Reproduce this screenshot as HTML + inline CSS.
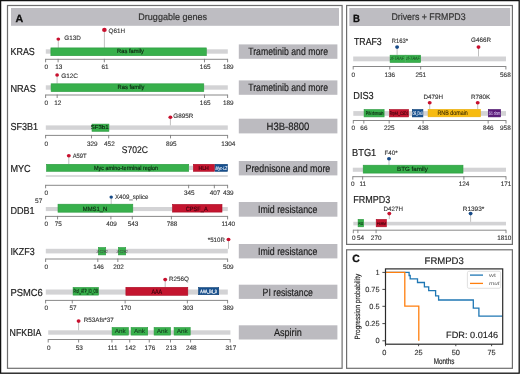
<!DOCTYPE html>
<html><head><meta charset="utf-8"><style>
html,body{margin:0;padding:0;background:#fff;}
svg{display:block;font-family:"Liberation Sans", sans-serif;will-change:transform;text-rendering:geometricPrecision;}
</style></head><body>
<svg width="520" height="374" viewBox="0 0 520 374">
<rect x="0.00" y="0.00" width="520.00" height="374.00" fill="#fff"/>
<rect x="0.6" y="0.6" width="518.6" height="372.6" fill="none" stroke="#111" stroke-width="1.3"/>
<rect x="7.5" y="5.5" width="334.6" height="362.8" fill="none" stroke="#6e6e6e" stroke-width="1.2"/>
<rect x="346.6" y="5.5" width="165.8" height="238.9" fill="none" stroke="#6e6e6e" stroke-width="1.2"/>
<rect x="346.6" y="249.8" width="165.8" height="118.5" fill="none" stroke="#6e6e6e" stroke-width="1.2"/>
<rect x="11.00" y="8.00" width="328.00" height="17.80" fill="#bebdc2"/>
<rect x="349.30" y="8.00" width="160.90" height="18.00" fill="#bebdc2"/>
<text x="15.50" y="21.90" font-size="10.4" fill="#111" stroke="#111" stroke-width="0.3" textLength="7.70" lengthAdjust="spacingAndGlyphs" font-weight="bold">A</text>
<text x="138.30" y="20.00" font-size="9.5" fill="#333" stroke="#333" stroke-width="0.2" textLength="68.80" lengthAdjust="spacingAndGlyphs">Druggable genes</text>
<text x="352.90" y="21.90" font-size="10.4" fill="#111" stroke="#111" stroke-width="0.3" textLength="6.90" lengthAdjust="spacingAndGlyphs" font-weight="bold">B</text>
<text x="391.40" y="19.90" font-size="9.7" fill="#333" stroke="#333" stroke-width="0.2" textLength="74.20" lengthAdjust="spacingAndGlyphs">Drivers + FRMPD3</text>
<text x="10.50" y="55.40" font-size="10.1" fill="#1e1e1e" stroke="#1e1e1e" stroke-width="0.2" textLength="24.30" lengthAdjust="spacingAndGlyphs">KRAS</text>
<rect x="45.80" y="49.30" width="182.00" height="4.40" fill="#d3d3d5"/>
<line x1="58.30" y1="39.10" x2="58.30" y2="47.90" stroke="#b0b0b0" stroke-width="0.8"/>
<ellipse cx="58.30" cy="39.10" rx="1.87" ry="1.70" fill="#c8102e"/>
<text x="64.20" y="39.90" font-size="6.3" fill="#333" stroke="#333" stroke-width="0.12" textLength="16.60" lengthAdjust="spacingAndGlyphs">G13D</text>
<line x1="104.40" y1="29.90" x2="104.40" y2="47.90" stroke="#b0b0b0" stroke-width="0.8"/>
<ellipse cx="104.40" cy="29.90" rx="2.31" ry="2.10" fill="#c8102e"/>
<text x="108.50" y="32.50" font-size="6.3" fill="#333" stroke="#333" stroke-width="0.12" textLength="16.50" lengthAdjust="spacingAndGlyphs">Q61H</text>
<rect x="50.90" y="47.90" width="155.40" height="7.80" fill="#38b04c" stroke="#2a9a3e" stroke-width="0.6"/>
<text x="117.10" y="53.30" font-size="6.0" fill="#0c2410" stroke="#0c2410" stroke-width="0.14" textLength="26.90" lengthAdjust="spacingAndGlyphs">Ras family</text>
<line x1="45.60" y1="59.30" x2="227.60" y2="59.30" stroke="#7a7a7a" stroke-width="0.9"/>
<line x1="45.60" y1="58.85" x2="45.60" y2="62.30" stroke="#7a7a7a" stroke-width="0.9"/>
<text x="46.30" y="69.14" font-size="6.4" fill="#333" stroke="#333" stroke-width="0.12" text-anchor="middle">0</text>
<line x1="58.12" y1="58.85" x2="58.12" y2="62.30" stroke="#7a7a7a" stroke-width="0.9"/>
<text x="58.82" y="69.14" font-size="6.4" fill="#333" stroke="#333" stroke-width="0.12" text-anchor="middle">13</text>
<line x1="104.34" y1="58.85" x2="104.34" y2="62.30" stroke="#7a7a7a" stroke-width="0.9"/>
<text x="105.04" y="69.14" font-size="6.4" fill="#333" stroke="#333" stroke-width="0.12" text-anchor="middle">61</text>
<line x1="204.49" y1="58.85" x2="204.49" y2="62.30" stroke="#7a7a7a" stroke-width="0.9"/>
<text x="205.19" y="69.14" font-size="6.4" fill="#333" stroke="#333" stroke-width="0.12" text-anchor="middle">165</text>
<line x1="227.60" y1="58.85" x2="227.60" y2="62.30" stroke="#7a7a7a" stroke-width="0.9"/>
<text x="228.30" y="69.14" font-size="6.4" fill="#333" stroke="#333" stroke-width="0.12" text-anchor="middle">189</text>
<rect x="238.80" y="44.40" width="98.60" height="14.40" fill="#bcbbc0"/>
<text x="248.20" y="55.40" font-size="10.6" fill="#1e1e1e" stroke="#1e1e1e" stroke-width="0.18" textLength="79.80" lengthAdjust="spacingAndGlyphs">Trametinib and more</text>
<text x="10.40" y="91.50" font-size="10.1" fill="#1e1e1e" stroke="#1e1e1e" stroke-width="0.2" textLength="25.40" lengthAdjust="spacingAndGlyphs">NRAS</text>
<rect x="45.80" y="85.30" width="182.00" height="4.40" fill="#d3d3d5"/>
<line x1="57.10" y1="75.00" x2="57.10" y2="83.70" stroke="#b0b0b0" stroke-width="0.8"/>
<ellipse cx="57.10" cy="75.00" rx="1.87" ry="1.70" fill="#c8102e"/>
<text x="61.20" y="77.50" font-size="6.3" fill="#333" stroke="#333" stroke-width="0.12" textLength="16.80" lengthAdjust="spacingAndGlyphs">G12C</text>
<rect x="51.10" y="83.80" width="152.70" height="7.80" fill="#38b04c" stroke="#2a9a3e" stroke-width="0.6"/>
<text x="117.60" y="89.20" font-size="6.0" fill="#0c2410" stroke="#0c2410" stroke-width="0.14" textLength="26.90" lengthAdjust="spacingAndGlyphs">Ras family</text>
<line x1="45.60" y1="95.00" x2="227.60" y2="95.00" stroke="#7a7a7a" stroke-width="0.9"/>
<line x1="45.60" y1="94.55" x2="45.60" y2="98.00" stroke="#7a7a7a" stroke-width="0.9"/>
<text x="46.30" y="105.34" font-size="6.4" fill="#333" stroke="#333" stroke-width="0.12" text-anchor="middle">0</text>
<line x1="57.16" y1="94.55" x2="57.16" y2="98.00" stroke="#7a7a7a" stroke-width="0.9"/>
<text x="57.86" y="105.34" font-size="6.4" fill="#333" stroke="#333" stroke-width="0.12" text-anchor="middle">12</text>
<line x1="204.49" y1="94.55" x2="204.49" y2="98.00" stroke="#7a7a7a" stroke-width="0.9"/>
<text x="205.19" y="105.34" font-size="6.4" fill="#333" stroke="#333" stroke-width="0.12" text-anchor="middle">165</text>
<line x1="227.60" y1="94.55" x2="227.60" y2="98.00" stroke="#7a7a7a" stroke-width="0.9"/>
<text x="228.30" y="105.34" font-size="6.4" fill="#333" stroke="#333" stroke-width="0.12" text-anchor="middle">189</text>
<rect x="238.80" y="80.40" width="98.60" height="14.40" fill="#bcbbc0"/>
<text x="248.20" y="91.40" font-size="10.6" fill="#1e1e1e" stroke="#1e1e1e" stroke-width="0.18" textLength="79.80" lengthAdjust="spacingAndGlyphs">Trametinib and more</text>
<text x="10.40" y="130.00" font-size="10.1" fill="#1e1e1e" stroke="#1e1e1e" stroke-width="0.2" textLength="27.60" lengthAdjust="spacingAndGlyphs">SF3B1</text>
<rect x="45.80" y="125.40" width="182.00" height="4.40" fill="#d3d3d5"/>
<line x1="170.40" y1="117.20" x2="170.40" y2="125.40" stroke="#b0b0b0" stroke-width="0.8"/>
<ellipse cx="170.40" cy="117.20" rx="1.98" ry="1.80" fill="#c8102e"/>
<text x="173.30" y="118.10" font-size="6.3" fill="#333" stroke="#333" stroke-width="0.12" textLength="20.00" lengthAdjust="spacingAndGlyphs">G895R</text>
<rect x="92.00" y="124.10" width="16.90" height="7.20" fill="#38b04c" stroke="#2a9a3e" stroke-width="0.6"/>
<text x="90.80" y="129.00" font-size="5.6" fill="#0c2410" stroke="#0c2410" stroke-width="0.14" textLength="17.80" lengthAdjust="spacingAndGlyphs">SF3b1</text>
<line x1="45.60" y1="135.40" x2="227.60" y2="135.40" stroke="#7a7a7a" stroke-width="0.9"/>
<line x1="45.60" y1="134.95" x2="45.60" y2="138.40" stroke="#7a7a7a" stroke-width="0.9"/>
<text x="46.30" y="145.54" font-size="6.4" fill="#333" stroke="#333" stroke-width="0.12" text-anchor="middle">0</text>
<line x1="91.52" y1="134.95" x2="91.52" y2="138.40" stroke="#7a7a7a" stroke-width="0.9"/>
<text x="92.22" y="145.54" font-size="6.4" fill="#333" stroke="#333" stroke-width="0.12" text-anchor="middle">329</text>
<line x1="108.69" y1="134.95" x2="108.69" y2="138.40" stroke="#7a7a7a" stroke-width="0.9"/>
<text x="109.39" y="145.54" font-size="6.4" fill="#333" stroke="#333" stroke-width="0.12" text-anchor="middle">452</text>
<line x1="170.52" y1="134.95" x2="170.52" y2="138.40" stroke="#7a7a7a" stroke-width="0.9"/>
<text x="171.22" y="145.54" font-size="6.4" fill="#333" stroke="#333" stroke-width="0.12" text-anchor="middle">895</text>
<line x1="227.60" y1="134.95" x2="227.60" y2="138.40" stroke="#7a7a7a" stroke-width="0.9"/>
<text x="228.30" y="145.54" font-size="6.4" fill="#333" stroke="#333" stroke-width="0.12" text-anchor="middle">1304</text>
<text x="121.80" y="153.20" font-size="9.6" fill="#1e1e1e" stroke="#1e1e1e" stroke-width="0.18" textLength="26.20" lengthAdjust="spacingAndGlyphs">S702C</text>
<rect x="238.80" y="118.70" width="98.60" height="14.70" fill="#bcbbc0"/>
<text x="266.60" y="130.00" font-size="10.6" fill="#1e1e1e" stroke="#1e1e1e" stroke-width="0.18" textLength="42.80" lengthAdjust="spacingAndGlyphs">H3B-8800</text>
<text x="10.40" y="171.60" font-size="10.1" fill="#1e1e1e" stroke="#1e1e1e" stroke-width="0.2" textLength="20.30" lengthAdjust="spacingAndGlyphs">MYC</text>
<line x1="45.80" y1="176.00" x2="227.80" y2="176.00" stroke="#cfcfd1" stroke-width="1.5"/>
<line x1="68.80" y1="155.70" x2="68.80" y2="164.00" stroke="#b0b0b0" stroke-width="0.8"/>
<ellipse cx="68.80" cy="155.70" rx="1.98" ry="1.80" fill="#c8102e"/>
<text x="72.70" y="157.50" font-size="6.3" fill="#333" stroke="#333" stroke-width="0.12" textLength="14.00" lengthAdjust="spacingAndGlyphs">A59T</text>
<rect x="46.50" y="164.30" width="142.20" height="7.00" fill="#38b04c" stroke="#2a9a3e" stroke-width="0.6"/>
<text x="94.00" y="169.60" font-size="6.0" fill="#0c2410" stroke="#0c2410" stroke-width="0.14" textLength="64.10" lengthAdjust="spacingAndGlyphs">Myc amino-terminal region</text>
<rect x="189.00" y="165.80" width="4.00" height="4.20" fill="#d3d3d5"/>
<rect x="193.30" y="164.30" width="21.20" height="7.00" fill="#c4152f" stroke="#aa0a24" stroke-width="0.6"/>
<text x="198.50" y="170.20" font-size="5.8" fill="#3a020c" stroke="#3a020c" stroke-width="0.14" textLength="10.30" lengthAdjust="spacingAndGlyphs">HLH</text>
<rect x="215.10" y="164.30" width="12.40" height="7.00" fill="#17508e" stroke="#0c3f75" stroke-width="0.6"/>
<text x="215.60" y="169.60" font-size="5.0" fill="#e8eef8" stroke="#e8eef8" stroke-width="0.14" textLength="11.60" lengthAdjust="spacingAndGlyphs" font-style="italic">Myc-LZ</text>
<line x1="45.60" y1="185.30" x2="227.60" y2="185.30" stroke="#7a7a7a" stroke-width="0.9"/>
<line x1="45.60" y1="184.85" x2="45.60" y2="188.30" stroke="#7a7a7a" stroke-width="0.9"/>
<text x="46.30" y="195.04" font-size="6.4" fill="#333" stroke="#333" stroke-width="0.12" text-anchor="middle">0</text>
<line x1="188.63" y1="184.85" x2="188.63" y2="188.30" stroke="#7a7a7a" stroke-width="0.9"/>
<text x="189.33" y="195.04" font-size="6.4" fill="#333" stroke="#333" stroke-width="0.12" text-anchor="middle">345</text>
<line x1="214.33" y1="184.85" x2="214.33" y2="188.30" stroke="#7a7a7a" stroke-width="0.9"/>
<text x="215.03" y="195.04" font-size="6.4" fill="#333" stroke="#333" stroke-width="0.12" text-anchor="middle">407</text>
<line x1="227.60" y1="184.85" x2="227.60" y2="188.30" stroke="#7a7a7a" stroke-width="0.9"/>
<text x="228.30" y="195.04" font-size="6.4" fill="#333" stroke="#333" stroke-width="0.12" text-anchor="middle">439</text>
<rect x="238.80" y="161.00" width="98.60" height="14.40" fill="#bcbbc0"/>
<text x="245.50" y="172.00" font-size="10.6" fill="#1e1e1e" stroke="#1e1e1e" stroke-width="0.18" textLength="84.80" lengthAdjust="spacingAndGlyphs">Prednisone and more</text>
<text x="10.40" y="213.50" font-size="10.1" fill="#1e1e1e" stroke="#1e1e1e" stroke-width="0.2" textLength="24.20" lengthAdjust="spacingAndGlyphs">DDB1</text>
<text x="35.10" y="203.30" font-size="6.4" fill="#333" stroke="#333" stroke-width="0.12" textLength="7.30" lengthAdjust="spacingAndGlyphs">57</text>
<rect x="45.80" y="207.00" width="182.00" height="4.10" fill="#d3d3d5"/>
<line x1="111.20" y1="197.10" x2="111.20" y2="204.00" stroke="#b0b0b0" stroke-width="0.8"/>
<ellipse cx="111.20" cy="197.10" rx="1.76" ry="1.60" fill="#164a88"/>
<text x="115.00" y="198.90" font-size="6.3" fill="#333" stroke="#333" stroke-width="0.12" textLength="33.50" lengthAdjust="spacingAndGlyphs">X409_splice</text>
<rect x="58.00" y="204.20" width="74.80" height="8.00" fill="#38b04c" stroke="#2a9a3e" stroke-width="0.6"/>
<text x="82.80" y="210.80" font-size="6.2" fill="#0c2410" stroke="#0c2410" stroke-width="0.14" textLength="24.40" lengthAdjust="spacingAndGlyphs">MMS1_N</text>
<rect x="172.50" y="204.40" width="49.50" height="7.70" fill="#c4152f" stroke="#aa0a24" stroke-width="0.6"/>
<text x="185.80" y="210.80" font-size="6.2" fill="#3a020c" stroke="#3a020c" stroke-width="0.14" textLength="21.90" lengthAdjust="spacingAndGlyphs">CPSF_A</text>
<line x1="45.60" y1="216.40" x2="227.60" y2="216.40" stroke="#7a7a7a" stroke-width="0.9"/>
<line x1="45.60" y1="215.95" x2="45.60" y2="219.40" stroke="#7a7a7a" stroke-width="0.9"/>
<text x="46.30" y="226.04" font-size="6.4" fill="#333" stroke="#333" stroke-width="0.12" text-anchor="middle">0</text>
<line x1="57.57" y1="215.95" x2="57.57" y2="219.40" stroke="#7a7a7a" stroke-width="0.9"/>
<text x="58.27" y="226.04" font-size="6.4" fill="#333" stroke="#333" stroke-width="0.12" text-anchor="middle">75</text>
<line x1="110.90" y1="215.95" x2="110.90" y2="219.40" stroke="#7a7a7a" stroke-width="0.9"/>
<text x="111.60" y="226.04" font-size="6.4" fill="#333" stroke="#333" stroke-width="0.12" text-anchor="middle">409</text>
<line x1="132.29" y1="215.95" x2="132.29" y2="219.40" stroke="#7a7a7a" stroke-width="0.9"/>
<text x="132.99" y="226.04" font-size="6.4" fill="#333" stroke="#333" stroke-width="0.12" text-anchor="middle">543</text>
<line x1="171.40" y1="215.95" x2="171.40" y2="219.40" stroke="#7a7a7a" stroke-width="0.9"/>
<text x="172.10" y="226.04" font-size="6.4" fill="#333" stroke="#333" stroke-width="0.12" text-anchor="middle">788</text>
<line x1="227.60" y1="215.95" x2="227.60" y2="219.40" stroke="#7a7a7a" stroke-width="0.9"/>
<text x="228.30" y="226.04" font-size="6.4" fill="#333" stroke="#333" stroke-width="0.12" text-anchor="middle">1140</text>
<rect x="238.80" y="202.00" width="98.60" height="14.70" fill="#bcbbc0"/>
<text x="258.00" y="213.30" font-size="10.6" fill="#1e1e1e" stroke="#1e1e1e" stroke-width="0.18" textLength="59.40" lengthAdjust="spacingAndGlyphs">Imid resistance</text>
<text x="10.40" y="254.80" font-size="10.1" fill="#1e1e1e" stroke="#1e1e1e" stroke-width="0.2" textLength="24.20" lengthAdjust="spacingAndGlyphs">IKZF3</text>
<rect x="45.80" y="248.80" width="182.00" height="4.60" fill="#d3d3d5"/>
<line x1="228.50" y1="239.50" x2="228.50" y2="248.80" stroke="#b0b0b0" stroke-width="0.8"/>
<ellipse cx="228.50" cy="239.50" rx="1.98" ry="1.80" fill="#c8102e"/>
<text x="207.80" y="241.50" font-size="6.3" fill="#333" stroke="#333" stroke-width="0.12" textLength="17.10" lengthAdjust="spacingAndGlyphs">*510R</text>
<rect x="98.40" y="247.50" width="7.30" height="7.40" fill="#38b04c" stroke="#2a9a3e" stroke-width="0.6"/>
<text x="96.40" y="252.60" font-size="4.2" fill="#444" stroke="#444" stroke-width="0.05" textLength="11.40" lengthAdjust="spacingAndGlyphs">zf-C2H2</text>
<rect x="118.40" y="247.50" width="7.30" height="7.40" fill="#38b04c" stroke="#2a9a3e" stroke-width="0.6"/>
<text x="116.40" y="252.60" font-size="4.2" fill="#444" stroke="#444" stroke-width="0.05" textLength="11.40" lengthAdjust="spacingAndGlyphs">zf-C2H2</text>
<line x1="45.60" y1="259.00" x2="227.60" y2="259.00" stroke="#7a7a7a" stroke-width="0.9"/>
<line x1="45.60" y1="258.55" x2="45.60" y2="262.00" stroke="#7a7a7a" stroke-width="0.9"/>
<text x="46.30" y="268.94" font-size="6.4" fill="#333" stroke="#333" stroke-width="0.12" text-anchor="middle">0</text>
<line x1="97.80" y1="258.55" x2="97.80" y2="262.00" stroke="#7a7a7a" stroke-width="0.9"/>
<text x="98.50" y="268.94" font-size="6.4" fill="#333" stroke="#333" stroke-width="0.12" text-anchor="middle">146</text>
<line x1="117.83" y1="258.55" x2="117.83" y2="262.00" stroke="#7a7a7a" stroke-width="0.9"/>
<text x="118.53" y="268.94" font-size="6.4" fill="#333" stroke="#333" stroke-width="0.12" text-anchor="middle">202</text>
<line x1="227.60" y1="258.55" x2="227.60" y2="262.00" stroke="#7a7a7a" stroke-width="0.9"/>
<text x="228.30" y="268.94" font-size="6.4" fill="#333" stroke="#333" stroke-width="0.12" text-anchor="middle">509</text>
<rect x="238.80" y="244.00" width="98.60" height="14.40" fill="#bcbbc0"/>
<text x="258.00" y="255.40" font-size="10.6" fill="#1e1e1e" stroke="#1e1e1e" stroke-width="0.18" textLength="59.40" lengthAdjust="spacingAndGlyphs">Imid resistance</text>
<text x="10.40" y="295.60" font-size="10.1" fill="#1e1e1e" stroke="#1e1e1e" stroke-width="0.2" textLength="32.30" lengthAdjust="spacingAndGlyphs">PSMC6</text>
<rect x="45.80" y="289.50" width="182.00" height="5.10" fill="#d3d3d5"/>
<line x1="165.20" y1="279.60" x2="165.20" y2="287.00" stroke="#b0b0b0" stroke-width="0.8"/>
<ellipse cx="165.20" cy="279.60" rx="1.98" ry="1.80" fill="#c8102e"/>
<text x="168.90" y="280.70" font-size="6.3" fill="#333" stroke="#333" stroke-width="0.12" textLength="19.90" lengthAdjust="spacingAndGlyphs">R256Q</text>
<rect x="73.10" y="287.40" width="25.40" height="7.70" fill="#38b04c" stroke="#2a9a3e" stroke-width="0.6"/>
<text x="73.40" y="292.90" font-size="6.0" fill="#0c2410" stroke="#0c2410" stroke-width="0.14" textLength="24.60" lengthAdjust="spacingAndGlyphs">Prot_ATP_ID_OB</text>
<rect x="125.90" y="287.30" width="61.90" height="8.00" fill="#c4152f" stroke="#aa0a24" stroke-width="0.6"/>
<text x="151.40" y="294.00" font-size="6.4" fill="#3a020c" stroke="#3a020c" stroke-width="0.14" textLength="10.80" lengthAdjust="spacingAndGlyphs">AAA</text>
<rect x="198.60" y="287.60" width="20.10" height="7.10" fill="#17508e" stroke="#0c3f75" stroke-width="0.6"/>
<text x="200.30" y="292.60" font-size="4.8" fill="#f4f6fa" stroke="#f4f6fa" stroke-width="0.25" textLength="16.50" lengthAdjust="spacingAndGlyphs">AAA_lid_3</text>
<line x1="45.60" y1="300.40" x2="227.60" y2="300.40" stroke="#7a7a7a" stroke-width="0.9"/>
<line x1="45.60" y1="299.95" x2="45.60" y2="303.40" stroke="#7a7a7a" stroke-width="0.9"/>
<text x="46.30" y="310.04" font-size="6.4" fill="#333" stroke="#333" stroke-width="0.12" text-anchor="middle">0</text>
<line x1="72.27" y1="299.95" x2="72.27" y2="303.40" stroke="#7a7a7a" stroke-width="0.9"/>
<text x="72.97" y="310.04" font-size="6.4" fill="#333" stroke="#333" stroke-width="0.12" text-anchor="middle">57</text>
<line x1="125.14" y1="299.95" x2="125.14" y2="303.40" stroke="#7a7a7a" stroke-width="0.9"/>
<text x="125.84" y="310.04" font-size="6.4" fill="#333" stroke="#333" stroke-width="0.12" text-anchor="middle">170</text>
<line x1="187.36" y1="299.95" x2="187.36" y2="303.40" stroke="#7a7a7a" stroke-width="0.9"/>
<text x="188.06" y="310.04" font-size="6.4" fill="#333" stroke="#333" stroke-width="0.12" text-anchor="middle">303</text>
<line x1="227.60" y1="299.95" x2="227.60" y2="303.40" stroke="#7a7a7a" stroke-width="0.9"/>
<text x="228.30" y="310.04" font-size="6.4" fill="#333" stroke="#333" stroke-width="0.12" text-anchor="middle">389</text>
<rect x="238.80" y="284.70" width="98.60" height="14.20" fill="#bcbbc0"/>
<text x="262.60" y="295.80" font-size="10.6" fill="#1e1e1e" stroke="#1e1e1e" stroke-width="0.18" textLength="50.30" lengthAdjust="spacingAndGlyphs">PI resistance</text>
<text x="9.60" y="335.80" font-size="10.1" fill="#1e1e1e" stroke="#1e1e1e" stroke-width="0.2" textLength="31.70" lengthAdjust="spacingAndGlyphs">NFKBIA</text>
<rect x="48.20" y="330.30" width="182.20" height="4.40" fill="#d3d3d5"/>
<line x1="78.60" y1="321.10" x2="78.60" y2="330.30" stroke="#b0b0b0" stroke-width="0.8"/>
<ellipse cx="78.60" cy="321.10" rx="1.98" ry="1.80" fill="#c8102e"/>
<text x="83.80" y="321.80" font-size="6.3" fill="#333" stroke="#333" stroke-width="0.12" textLength="29.90" lengthAdjust="spacingAndGlyphs">R53Afs*37</text>
<rect x="112.10" y="327.50" width="16.30" height="7.60" fill="#38b04c" stroke="#2a9a3e" stroke-width="0.6"/>
<text x="114.75" y="333.30" font-size="5.9" fill="#10301a" stroke="#10301a" stroke-width="0.04" textLength="11.00" lengthAdjust="spacingAndGlyphs">Ank</text>
<rect x="131.10" y="327.50" width="16.60" height="7.60" fill="#38b04c" stroke="#2a9a3e" stroke-width="0.6"/>
<text x="133.90" y="333.30" font-size="5.9" fill="#10301a" stroke="#10301a" stroke-width="0.04" textLength="11.00" lengthAdjust="spacingAndGlyphs">Ank</text>
<rect x="154.10" y="327.50" width="16.40" height="7.60" fill="#38b04c" stroke="#2a9a3e" stroke-width="0.6"/>
<text x="156.80" y="333.30" font-size="5.9" fill="#10301a" stroke="#10301a" stroke-width="0.04" textLength="11.00" lengthAdjust="spacingAndGlyphs">Ank</text>
<rect x="174.10" y="327.50" width="16.10" height="7.60" fill="#38b04c" stroke="#2a9a3e" stroke-width="0.6"/>
<text x="176.65" y="333.30" font-size="5.9" fill="#10301a" stroke="#10301a" stroke-width="0.04" textLength="11.00" lengthAdjust="spacingAndGlyphs">Ank</text>
<line x1="48.20" y1="339.50" x2="230.20" y2="339.50" stroke="#7a7a7a" stroke-width="0.9"/>
<line x1="48.20" y1="339.05" x2="48.20" y2="342.50" stroke="#7a7a7a" stroke-width="0.9"/>
<text x="48.90" y="350.04" font-size="6.4" fill="#333" stroke="#333" stroke-width="0.12" text-anchor="middle">0</text>
<line x1="78.63" y1="339.05" x2="78.63" y2="342.50" stroke="#7a7a7a" stroke-width="0.9"/>
<text x="79.33" y="350.04" font-size="6.4" fill="#333" stroke="#333" stroke-width="0.12" text-anchor="middle">53</text>
<line x1="111.93" y1="339.05" x2="111.93" y2="342.50" stroke="#7a7a7a" stroke-width="0.9"/>
<text x="112.63" y="350.04" font-size="6.4" fill="#333" stroke="#333" stroke-width="0.12" text-anchor="middle">111</text>
<line x1="129.73" y1="339.05" x2="129.73" y2="342.50" stroke="#7a7a7a" stroke-width="0.9"/>
<text x="130.43" y="350.04" font-size="6.4" fill="#333" stroke="#333" stroke-width="0.12" text-anchor="middle">142</text>
<line x1="149.25" y1="339.05" x2="149.25" y2="342.50" stroke="#7a7a7a" stroke-width="0.9"/>
<text x="149.95" y="350.04" font-size="6.4" fill="#333" stroke="#333" stroke-width="0.12" text-anchor="middle">176</text>
<line x1="170.49" y1="339.05" x2="170.49" y2="342.50" stroke="#7a7a7a" stroke-width="0.9"/>
<text x="171.19" y="350.04" font-size="6.4" fill="#333" stroke="#333" stroke-width="0.12" text-anchor="middle">213</text>
<line x1="190.58" y1="339.05" x2="190.58" y2="342.50" stroke="#7a7a7a" stroke-width="0.9"/>
<text x="191.28" y="350.04" font-size="6.4" fill="#333" stroke="#333" stroke-width="0.12" text-anchor="middle">248</text>
<line x1="230.20" y1="339.05" x2="230.20" y2="342.50" stroke="#7a7a7a" stroke-width="0.9"/>
<text x="230.90" y="350.04" font-size="6.4" fill="#333" stroke="#333" stroke-width="0.12" text-anchor="middle">317</text>
<rect x="238.80" y="325.30" width="98.60" height="14.20" fill="#bcbbc0"/>
<text x="274.00" y="336.30" font-size="10.6" fill="#1e1e1e" stroke="#1e1e1e" stroke-width="0.18" textLength="27.70" lengthAdjust="spacingAndGlyphs">Aspirin</text>
<text x="354.00" y="45.00" font-size="10.1" fill="#1e1e1e" stroke="#1e1e1e" stroke-width="0.2" textLength="27.70" lengthAdjust="spacingAndGlyphs">TRAF3</text>
<rect x="353.20" y="56.50" width="152.80" height="4.80" fill="#d3d3d5"/>
<line x1="397.10" y1="47.10" x2="397.10" y2="54.90" stroke="#b0b0b0" stroke-width="0.8"/>
<ellipse cx="397.10" cy="47.10" rx="1.98" ry="1.80" fill="#164a88"/>
<text x="391.80" y="42.60" font-size="6.3" fill="#333" stroke="#333" stroke-width="0.12" textLength="16.20" lengthAdjust="spacingAndGlyphs">R163*</text>
<line x1="478.50" y1="47.10" x2="478.50" y2="56.50" stroke="#b0b0b0" stroke-width="0.8"/>
<ellipse cx="478.50" cy="47.10" rx="1.98" ry="1.80" fill="#c8102e"/>
<text x="471.00" y="42.10" font-size="6.3" fill="#333" stroke="#333" stroke-width="0.12" textLength="20.00" lengthAdjust="spacingAndGlyphs">G466R</text>
<rect x="390.10" y="55.20" width="15.00" height="7.30" fill="#38b04c" stroke="#2a9a3e" stroke-width="0.6"/>
<text x="390.20" y="60.10" font-size="4.8" fill="#1a4a22" stroke="#1a4a22" stroke-width="0.04" textLength="13.80" lengthAdjust="spacingAndGlyphs" font-style="italic">zf-TRAF</text>
<rect x="405.30" y="55.20" width="15.40" height="7.30" fill="#38b04c" stroke="#2a9a3e" stroke-width="0.6"/>
<text x="406.00" y="60.10" font-size="4.8" fill="#1a4a22" stroke="#1a4a22" stroke-width="0.04" textLength="13.80" lengthAdjust="spacingAndGlyphs" font-style="italic">zf-TRAF</text>
<line x1="405.20" y1="55.30" x2="405.20" y2="62.40" stroke="#6cc67c" stroke-width="0.6"/>
<line x1="353.20" y1="66.50" x2="505.90" y2="66.50" stroke="#7a7a7a" stroke-width="0.9"/>
<line x1="353.20" y1="66.05" x2="353.20" y2="69.50" stroke="#7a7a7a" stroke-width="0.9"/>
<text x="353.30" y="76.54" font-size="6.4" fill="#333" stroke="#333" stroke-width="0.12" text-anchor="middle">0</text>
<line x1="389.76" y1="66.05" x2="389.76" y2="69.50" stroke="#7a7a7a" stroke-width="0.9"/>
<text x="389.86" y="76.54" font-size="6.4" fill="#333" stroke="#333" stroke-width="0.12" text-anchor="middle">136</text>
<line x1="420.68" y1="66.05" x2="420.68" y2="69.50" stroke="#7a7a7a" stroke-width="0.9"/>
<text x="420.78" y="76.54" font-size="6.4" fill="#333" stroke="#333" stroke-width="0.12" text-anchor="middle">251</text>
<line x1="505.90" y1="66.05" x2="505.90" y2="69.50" stroke="#7a7a7a" stroke-width="0.9"/>
<text x="505.40" y="76.54" font-size="6.4" fill="#333" stroke="#333" stroke-width="0.12" text-anchor="middle">568</text>
<text x="353.30" y="99.10" font-size="10.1" fill="#1e1e1e" stroke="#1e1e1e" stroke-width="0.2" textLength="20.40" lengthAdjust="spacingAndGlyphs">DIS3</text>
<rect x="353.30" y="111.10" width="152.70" height="4.70" fill="#d3d3d5"/>
<line x1="429.70" y1="102.80" x2="429.70" y2="109.00" stroke="#b0b0b0" stroke-width="0.8"/>
<ellipse cx="429.70" cy="102.80" rx="1.98" ry="1.80" fill="#c8102e"/>
<text x="423.50" y="99.30" font-size="6.3" fill="#333" stroke="#333" stroke-width="0.12" textLength="19.50" lengthAdjust="spacingAndGlyphs">D479H</text>
<line x1="477.70" y1="102.80" x2="477.70" y2="109.00" stroke="#b0b0b0" stroke-width="0.8"/>
<ellipse cx="477.70" cy="102.80" rx="1.98" ry="1.80" fill="#c8102e"/>
<text x="471.00" y="99.30" font-size="6.3" fill="#333" stroke="#333" stroke-width="0.12" textLength="19.20" lengthAdjust="spacingAndGlyphs">R780K</text>
<rect x="364.10" y="109.50" width="20.00" height="7.40" fill="#38b04c" stroke="#2a9a3e" stroke-width="0.6"/>
<text x="365.70" y="114.60" font-size="5.0" fill="#0c2410" stroke="#0c2410" stroke-width="0.14" textLength="17.80" lengthAdjust="spacingAndGlyphs">PIN domain</text>
<rect x="389.50" y="109.50" width="19.10" height="7.40" fill="#c4152f" stroke="#aa0a24" stroke-width="0.6"/>
<text x="389.80" y="114.60" font-size="5.0" fill="#3a020c" stroke="#3a020c" stroke-width="0.14" textLength="18.40" lengthAdjust="spacingAndGlyphs">Rrp44_CSD1</text>
<rect x="412.30" y="109.50" width="10.60" height="7.40" fill="#17508e" stroke="#0c3f75" stroke-width="0.6"/>
<text x="412.40" y="114.60" font-size="5.0" fill="#dde6f2" stroke="#dde6f2" stroke-width="0.14" textLength="10.40" lengthAdjust="spacingAndGlyphs">OB_Dis3</text>
<rect x="428.10" y="109.40" width="52.20" height="7.40" fill="#f7bb10" stroke="#e8aa00" stroke-width="0.6"/>
<text x="437.50" y="114.60" font-size="6.6" fill="#3a2a00" stroke="#3a2a00" stroke-width="0.1" textLength="30.30" lengthAdjust="spacingAndGlyphs">RNB domain</text>
<rect x="488.30" y="109.50" width="12.30" height="7.40" fill="#5a1a78" stroke="#48106a" stroke-width="0.6"/>
<text x="488.80" y="114.60" font-size="5.0" fill="#c8b0e0" stroke="#c8b0e0" stroke-width="0.14" textLength="11.50" lengthAdjust="spacingAndGlyphs">S1 dom</text>
<line x1="353.30" y1="120.50" x2="506.00" y2="120.50" stroke="#7a7a7a" stroke-width="0.9"/>
<line x1="353.30" y1="120.05" x2="353.30" y2="123.50" stroke="#7a7a7a" stroke-width="0.9"/>
<text x="353.40" y="130.44" font-size="6.4" fill="#333" stroke="#333" stroke-width="0.12" text-anchor="middle">0</text>
<line x1="363.82" y1="120.05" x2="363.82" y2="123.50" stroke="#7a7a7a" stroke-width="0.9"/>
<text x="363.92" y="130.44" font-size="6.4" fill="#333" stroke="#333" stroke-width="0.12" text-anchor="middle">66</text>
<line x1="389.16" y1="120.05" x2="389.16" y2="123.50" stroke="#7a7a7a" stroke-width="0.9"/>
<text x="389.26" y="130.44" font-size="6.4" fill="#333" stroke="#333" stroke-width="0.12" text-anchor="middle">225</text>
<line x1="423.11" y1="120.05" x2="423.11" y2="123.50" stroke="#7a7a7a" stroke-width="0.9"/>
<text x="423.21" y="130.44" font-size="6.4" fill="#333" stroke="#333" stroke-width="0.12" text-anchor="middle">438</text>
<line x1="488.15" y1="120.05" x2="488.15" y2="123.50" stroke="#7a7a7a" stroke-width="0.9"/>
<text x="488.25" y="130.44" font-size="6.4" fill="#333" stroke="#333" stroke-width="0.12" text-anchor="middle">846</text>
<line x1="506.00" y1="120.05" x2="506.00" y2="123.50" stroke="#7a7a7a" stroke-width="0.9"/>
<text x="505.40" y="130.44" font-size="6.4" fill="#333" stroke="#333" stroke-width="0.12" text-anchor="middle">958</text>
<text x="352.00" y="156.00" font-size="10.1" fill="#1e1e1e" stroke="#1e1e1e" stroke-width="0.2" textLength="24.30" lengthAdjust="spacingAndGlyphs">BTG1</text>
<rect x="352.80" y="167.70" width="153.20" height="4.10" fill="#d3d3d5"/>
<line x1="389.00" y1="158.70" x2="389.00" y2="165.00" stroke="#b0b0b0" stroke-width="0.8"/>
<ellipse cx="389.00" cy="158.70" rx="1.98" ry="1.80" fill="#164a88"/>
<text x="384.60" y="154.80" font-size="6.3" fill="#333" stroke="#333" stroke-width="0.12" textLength="13.00" lengthAdjust="spacingAndGlyphs">F40*</text>
<rect x="363.20" y="165.20" width="99.80" height="7.90" fill="#38b04c" stroke="#2a9a3e" stroke-width="0.6"/>
<text x="397.00" y="170.60" font-size="6.0" fill="#0c2410" stroke="#0c2410" stroke-width="0.1" textLength="30.80" lengthAdjust="spacingAndGlyphs">BTG family</text>
<line x1="352.80" y1="176.70" x2="506.00" y2="176.70" stroke="#7a7a7a" stroke-width="0.9"/>
<line x1="352.80" y1="176.25" x2="352.80" y2="179.70" stroke="#7a7a7a" stroke-width="0.9"/>
<text x="352.90" y="186.24" font-size="6.4" fill="#333" stroke="#333" stroke-width="0.12" text-anchor="middle">0</text>
<line x1="362.65" y1="176.25" x2="362.65" y2="179.70" stroke="#7a7a7a" stroke-width="0.9"/>
<text x="362.75" y="186.24" font-size="6.4" fill="#333" stroke="#333" stroke-width="0.12" text-anchor="middle">11</text>
<line x1="463.89" y1="176.25" x2="463.89" y2="179.70" stroke="#7a7a7a" stroke-width="0.9"/>
<text x="463.99" y="186.24" font-size="6.4" fill="#333" stroke="#333" stroke-width="0.12" text-anchor="middle">124</text>
<line x1="506.00" y1="176.25" x2="506.00" y2="179.70" stroke="#7a7a7a" stroke-width="0.9"/>
<text x="506.10" y="186.24" font-size="6.4" fill="#333" stroke="#333" stroke-width="0.12" text-anchor="middle">171</text>
<text x="353.20" y="203.40" font-size="10.1" fill="#1e1e1e" stroke="#1e1e1e" stroke-width="0.2" textLength="37.00" lengthAdjust="spacingAndGlyphs">FRMPD3</text>
<rect x="353.30" y="221.80" width="152.70" height="3.60" fill="#d3d3d5"/>
<line x1="389.30" y1="213.60" x2="389.30" y2="219.10" stroke="#b0b0b0" stroke-width="0.8"/>
<ellipse cx="389.30" cy="213.60" rx="1.98" ry="1.80" fill="#c8102e"/>
<text x="383.60" y="210.80" font-size="6.3" fill="#333" stroke="#333" stroke-width="0.12" textLength="19.30" lengthAdjust="spacingAndGlyphs">D427H</text>
<line x1="470.60" y1="213.60" x2="470.60" y2="221.80" stroke="#b0b0b0" stroke-width="0.8"/>
<ellipse cx="470.60" cy="213.60" rx="1.98" ry="1.80" fill="#164a88"/>
<text x="462.70" y="210.80" font-size="6.3" fill="#333" stroke="#333" stroke-width="0.12" textLength="21.70" lengthAdjust="spacingAndGlyphs">R1393*</text>
<rect x="358.10" y="219.40" width="5.50" height="7.40" fill="#38b04c" stroke="#2a9a3e" stroke-width="0.6"/>
<text x="358.60" y="224.60" font-size="4.0" fill="#0c2410" stroke="#0c2410" stroke-width="0.14" textLength="4.60" lengthAdjust="spacingAndGlyphs">PDZ</text>
<rect x="376.20" y="219.40" width="10.20" height="7.40" fill="#c4152f" stroke="#aa0a24" stroke-width="0.6"/>
<text x="377.00" y="224.60" font-size="4.0" fill="#3a020c" stroke="#3a020c" stroke-width="0.14" textLength="8.80" lengthAdjust="spacingAndGlyphs">FERM</text>
<line x1="353.30" y1="230.20" x2="506.00" y2="230.20" stroke="#7a7a7a" stroke-width="0.9"/>
<line x1="353.30" y1="229.75" x2="353.30" y2="233.20" stroke="#7a7a7a" stroke-width="0.9"/>
<text x="353.70" y="239.94" font-size="6.4" fill="#333" stroke="#333" stroke-width="0.12" text-anchor="middle">0</text>
<line x1="357.86" y1="229.75" x2="357.86" y2="233.20" stroke="#7a7a7a" stroke-width="0.9"/>
<text x="360.60" y="239.94" font-size="6.4" fill="#333" stroke="#333" stroke-width="0.12" text-anchor="middle">54</text>
<line x1="376.08" y1="229.75" x2="376.08" y2="233.20" stroke="#7a7a7a" stroke-width="0.9"/>
<text x="376.18" y="239.94" font-size="6.4" fill="#333" stroke="#333" stroke-width="0.12" text-anchor="middle">270</text>
<line x1="506.00" y1="229.75" x2="506.00" y2="233.20" stroke="#7a7a7a" stroke-width="0.9"/>
<text x="504.30" y="239.94" font-size="6.4" fill="#333" stroke="#333" stroke-width="0.12" text-anchor="middle">1810</text>
<text x="352.30" y="261.80" font-size="10.4" fill="#111" stroke="#111" stroke-width="0.3" textLength="7.50" lengthAdjust="spacingAndGlyphs" font-weight="bold">C</text>
<text x="424.60" y="263.60" font-size="9.6" fill="#1e1e1e" stroke="#1e1e1e" stroke-width="0.18" textLength="39.20" lengthAdjust="spacingAndGlyphs">FRMPD3</text>
<path d="M385.6,272.4 H409.1 V275.5 H410.2 V278.9 H417.5 V282.5 H424.4 V286.8 H428.7 V290.7 H435.6 V295.8 H438.6 V300.0 H473.3 V308.2 H478.9 V316.2 H502.6" fill="none" stroke="#1f77b4" stroke-width="1.3"/>
<path d="M385.6,272.4 H404.8 V306.2 H418.8 V340.8" fill="none" stroke="#ff7f0e" stroke-width="1.3"/>
<rect x="385.5" y="268.9" width="117.2" height="75.3" fill="none" stroke="#2a2a2a" stroke-width="1.2"/>
<line x1="382.40" y1="272.40" x2="385.50" y2="272.40" stroke="#333" stroke-width="0.9"/>
<text x="379.60" y="275.00" font-size="7.4" fill="#333" stroke="#333" stroke-width="0.12" text-anchor="end">1</text>
<line x1="382.40" y1="289.40" x2="385.50" y2="289.40" stroke="#333" stroke-width="0.9"/>
<text x="379.60" y="292.00" font-size="7.4" fill="#333" stroke="#333" stroke-width="0.12" text-anchor="end">0.75</text>
<line x1="382.40" y1="306.30" x2="385.50" y2="306.30" stroke="#333" stroke-width="0.9"/>
<text x="379.60" y="308.90" font-size="7.4" fill="#333" stroke="#333" stroke-width="0.12" text-anchor="end">0.5</text>
<line x1="382.40" y1="323.60" x2="385.50" y2="323.60" stroke="#333" stroke-width="0.9"/>
<text x="379.60" y="326.20" font-size="7.4" fill="#333" stroke="#333" stroke-width="0.12" text-anchor="end">0.25</text>
<line x1="382.40" y1="340.80" x2="385.50" y2="340.80" stroke="#333" stroke-width="0.9"/>
<text x="379.60" y="343.40" font-size="7.4" fill="#333" stroke="#333" stroke-width="0.12" text-anchor="end">0</text>
<line x1="385.50" y1="344.20" x2="385.50" y2="346.20" stroke="#333" stroke-width="0.9"/>
<text x="384.20" y="355.10" font-size="7.4" fill="#333" stroke="#333" stroke-width="0.12" text-anchor="middle">0</text>
<line x1="418.60" y1="344.20" x2="418.60" y2="346.20" stroke="#333" stroke-width="0.9"/>
<text x="418.60" y="355.10" font-size="7.4" fill="#333" stroke="#333" stroke-width="0.12" text-anchor="middle">25</text>
<line x1="455.80" y1="344.20" x2="455.80" y2="346.20" stroke="#333" stroke-width="0.9"/>
<text x="455.80" y="355.10" font-size="7.4" fill="#333" stroke="#333" stroke-width="0.12" text-anchor="middle">50</text>
<line x1="491.60" y1="344.20" x2="491.60" y2="346.20" stroke="#333" stroke-width="0.9"/>
<text x="491.60" y="355.10" font-size="7.4" fill="#333" stroke="#333" stroke-width="0.12" text-anchor="middle">75</text>
<text x="433.80" y="363.60" font-size="8.4" fill="#2a2a2a" stroke="#2a2a2a" stroke-width="0.2" textLength="20.70" lengthAdjust="spacingAndGlyphs">Months</text>
<text transform="translate(360.0,339.4) rotate(-90)" font-size="7.6" fill="#2a2a2a" stroke="#2a2a2a" stroke-width="0.18" textLength="65.6" lengthAdjust="spacingAndGlyphs">Progression probability</text>
<rect x="467.4" y="271.3" width="33.2" height="17.0" rx="1.5" fill="#fff" stroke="#d8d8d8" stroke-width="0.8"/>
<line x1="470.00" y1="275.10" x2="483.00" y2="275.10" stroke="#1f77b4" stroke-width="1.3"/>
<line x1="470.00" y1="283.40" x2="483.00" y2="283.40" stroke="#ff7f0e" stroke-width="1.3"/>
<text x="489.00" y="277.40" font-size="5.2" fill="#6a6a6a" stroke="#6a6a6a" stroke-width="0.04" textLength="6.80" lengthAdjust="spacingAndGlyphs">wt</text>
<text x="489.00" y="284.60" font-size="5.2" fill="#6a6a6a" stroke="#6a6a6a" stroke-width="0.04" textLength="10.60" lengthAdjust="spacingAndGlyphs" font-style="italic">mut</text>
<text x="446.10" y="338.40" font-size="9.0" fill="#1e1e1e" stroke="#1e1e1e" stroke-width="0.15" textLength="52.00" lengthAdjust="spacingAndGlyphs">FDR: 0.0146</text>
</svg>
</body></html>
